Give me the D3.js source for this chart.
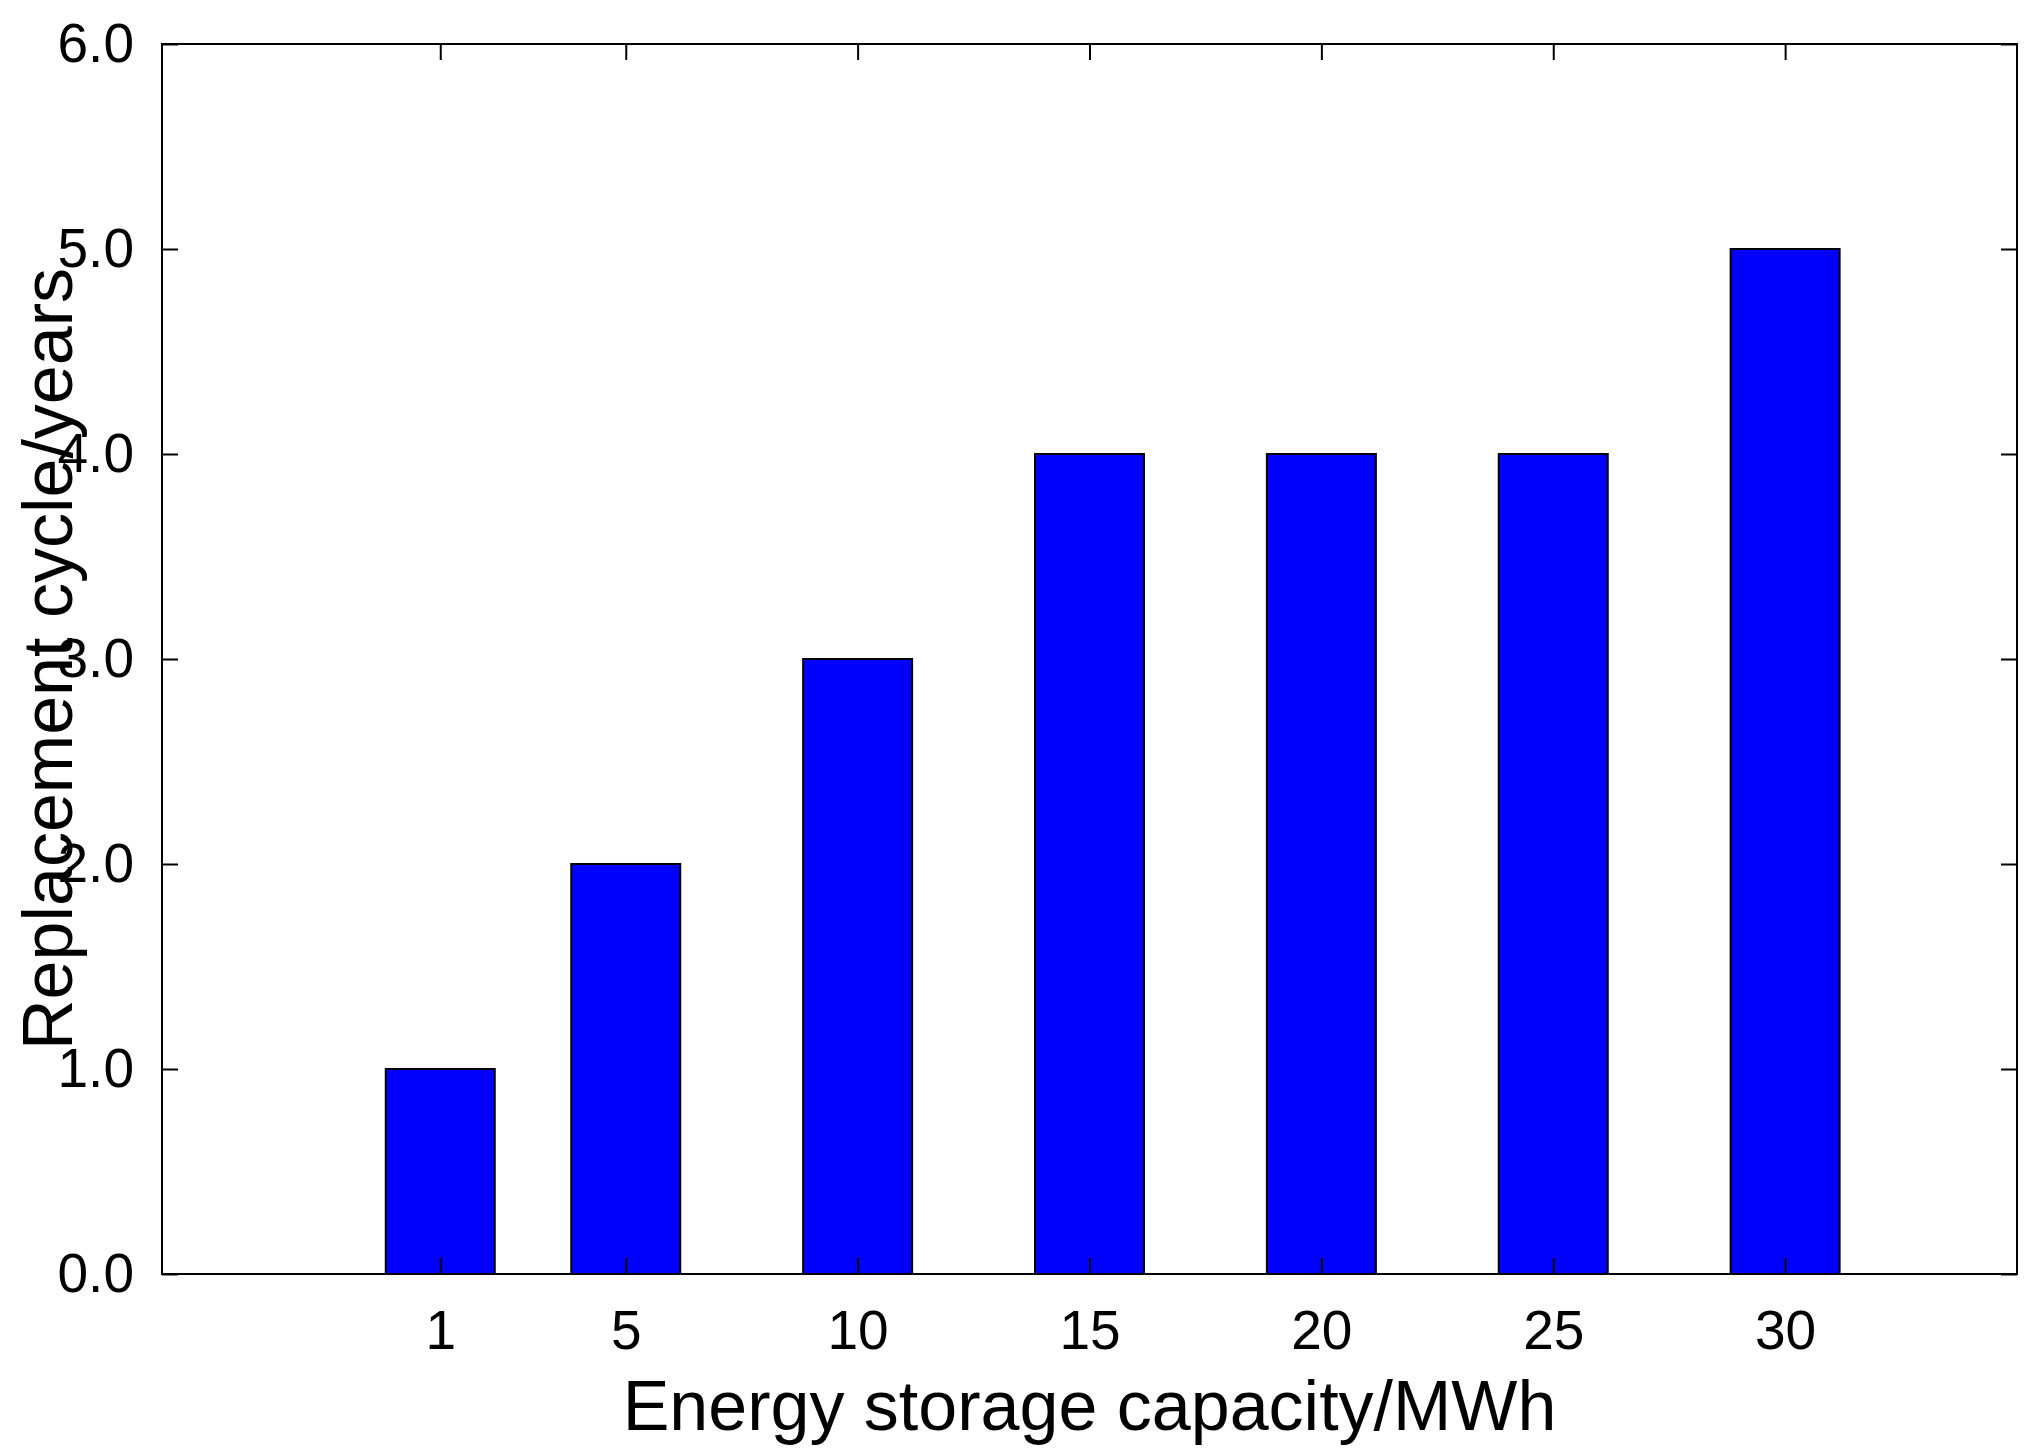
<!DOCTYPE html>
<html><head><meta charset="utf-8">
<script src="https://cdn.jsdelivr.net/npm/d3@7"></script>
<style>body{margin:0;background:#fff}text{font-family:"Liberation Sans",Arial,sans-serif}</style>
</head><body><div id="chart"></div>
<script>
// data
const capacities = [1, 5, 10, 15, 20, 25, 30];
const cycles = [1, 2, 3, 4, 4, 4, 5];
const yTicks = [0, 1, 2, 3, 4, 5, 6];

const width = 2033, height = 1450;
const m = {left: 162, right: 16, top: 44, bottom: 176};

const svg = d3.select("#chart").append("svg")
  .attr("width", width).attr("height", height);

const x = d3.scaleLinear().domain([-5, 35]).range([m.left, width - m.right]);
const y = d3.scaleLinear().domain([0, 6]).range([height - m.bottom, m.top]);
const barW = x(2.35) - x(0);

// bars
svg.selectAll("rect.bar")
  .data(capacities)
  .enter().append("rect")
  .attr("class", "bar")
  .attr("x", (d) => x(d) - barW / 2)
  .attr("y", (d, i) => y(cycles[i]))
  .attr("width", barW)
  .attr("height", (d, i) => y(0) - y(cycles[i]))
  .attr("fill", "#0000ff")
  .attr("stroke", "#000")
  .attr("stroke-width", 2);

const tickLen = 16;
// axes with inward ticks, mirrored on top/right
const styleAxis = (g) => {
  g.select(".domain").remove();
  g.selectAll("line").attr("stroke", "#000").attr("stroke-width", 2);
  g.selectAll("text").attr("font-size", 55).attr("fill", "#000");
};
svg.append("g").attr("transform", `translate(0,${y(0)})`)
  .call(d3.axisBottom(x).tickValues(capacities).tickSizeInner(-tickLen).tickSizeOuter(0).tickPadding(36))
  .call(styleAxis);
svg.append("g").attr("transform", `translate(0,${y(6)})`)
  .call(d3.axisTop(x).tickValues(capacities).tickSizeInner(-tickLen).tickSizeOuter(0).tickFormat(""))
  .call(styleAxis);
svg.append("g").attr("transform", `translate(${x(-5)},0)`)
  .call(d3.axisLeft(y).tickValues(yTicks).tickSizeInner(-tickLen).tickSizeOuter(0).tickPadding(28))
  .call(styleAxis);
svg.append("g").attr("transform", `translate(${x(35)},0)`)
  .call(d3.axisRight(y).tickValues(yTicks).tickSizeInner(-tickLen).tickSizeOuter(0).tickFormat(""))
  .call(styleAxis);

// frame
svg.append("rect")
  .attr("x", x(-5)).attr("y", y(6))
  .attr("width", x(35) - x(-5)).attr("height", y(0) - y(6))
  .attr("fill", "none").attr("stroke", "#000").attr("stroke-width", 2);

// labels
svg.append("text")
  .attr("x", (x(-5) + x(35)) / 2).attr("y", 1430)
  .attr("text-anchor", "middle").attr("font-size", 70)
  .text("Energy storage capacity/MWh");
svg.append("text")
  .attr("transform", `translate(72,${(y(0) + y(6)) / 2}) rotate(-90)`)
  .attr("text-anchor", "middle").attr("font-size", 70)
  .text("Replacement cycle/years");
</script></body></html>
